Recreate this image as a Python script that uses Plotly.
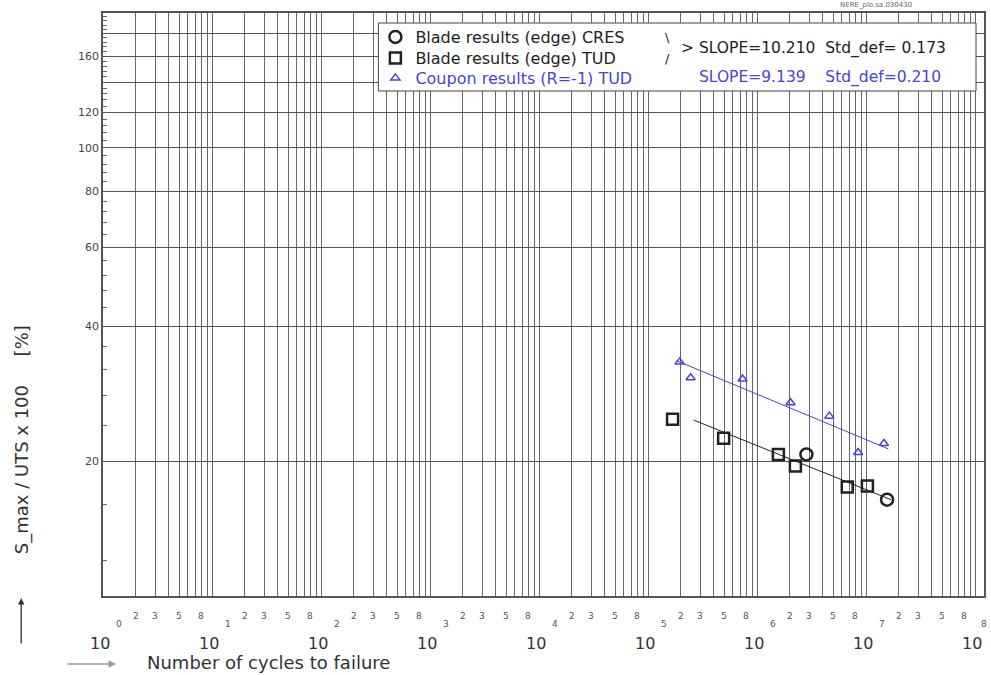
import numpy as np
import plotly.graph_objects as go

# ---------------- data ----------------
cres_N = [2.84e6, 1.56e7]
cres_S = [20.7, 16.4]
tud_blade_N = [1.68e5, 4.94e5, 1.57e6, 2.25e6, 6.73e6, 1.03e7]
tud_blade_S = [24.8, 22.5, 20.7, 19.5, 17.5, 17.6]
coupon_N = [1.95e5, 2.46e5, 7.37e5, 2.03e6, 4.61e6, 8.46e6, 1.46e7]
coupon_S = [33.3, 30.7, 30.5, 27.0, 25.2, 20.9, 21.9]
blade_fit_N = [2.62e5, 1.70e7]
blade_fit_S = [24.7, 16.4]
coupon_fit_N = [1.83e5, 1.60e7]
coupon_fit_S = [33.5, 21.3]

series_names = ["Blade results (edge) CRES", "Blade results (edge) TUD",
                "Coupon results (R=-1) TUD"]
blade_fit_text = "> SLOPE=10.210\u00a0\u00a0Std_def=\u00a00.173"
coupon_fit_text = "SLOPE=9.139\u00a0\u00a0\u00a0\u00a0Std_def=0.210"

y_tick_vals = [20, 40, 60, 80, 100, 120, 140, 160, 180]
y_tick_text = ["20", "40", "60", "80", "100", "120", "", "160", ""]
y_minor_vals = [12, 16, 24, 28, 32, 36, 44, 48, 52, 56, 64, 68, 72, 76, 84, 88, 92, 96,
                104, 108, 112, 116, 124, 128, 132, 136, 144, 148, 152, 156, 164, 168,
                172, 176, 184, 188, 192, 196]
x_decades = list(range(0, 9))
x_minor_labels = [2, 3, 5, 8]

BLUE = "#4646d2"
FONT = "DejaVu Sans, Liberation Sans, Arial, sans-serif"

W, H = 991, 675
L, R, T, B = 103, 5, 13, 79
PW, PH = W - L - R, H - T - B
DEC = 109.25
x_range = [0, PW / DEC]
y_range = [1, np.log10(200)]


def px(xp):
    return (xp - L) / PW


def py(yp):
    return (H - B - yp) / PH


fig = go.Figure()

# fit lines
fig.add_trace(go.Scatter(x=blade_fit_N, y=blade_fit_S, mode="lines",
                         line=dict(color="#222222", width=1), showlegend=False,
                         hoverinfo="skip"))
fig.add_trace(go.Scatter(x=coupon_fit_N, y=coupon_fit_S, mode="lines",
                         line=dict(color=BLUE, width=1), showlegend=False,
                         hoverinfo="skip"))
# markers
fig.add_trace(go.Scatter(x=cres_N, y=cres_S, mode="markers", name=series_names[0],
                         legend="legend",
                         marker=dict(symbol="circle-open", size=12, color="#222222",
                                     line=dict(width=2.5))))
fig.add_trace(go.Scatter(x=tud_blade_N, y=tud_blade_S, mode="markers", name=series_names[1],
                         legend="legend2",
                         marker=dict(symbol="square-open", size=11, color="#222222",
                                     line=dict(width=2.5))))
fig.add_trace(go.Scatter(x=coupon_N, y=coupon_S, mode="markers",
                         name="<span style='color:%s'>%s</span>" % (BLUE, series_names[2]),
                         legend="legend3",
                         marker=dict(symbol="triangle-up-open", size=8, color=BLUE,
                                     line=dict(width=1.5))))

x_grid = [k * 10 ** d for d in range(0, 8) for k in range(1, 10)] + [1e8]


def leg(yc):
    return dict(x=px(376), y=py(yc), xanchor="left", yanchor="middle",
                bgcolor="rgba(0,0,0,0)", borderwidth=0,
                font=dict(size=16, color="#222222", family=FONT), itemwidth=30)


fig.update_layout(
    width=W, height=H,
    margin=dict(l=L, r=R, t=T, b=B),
    paper_bgcolor="white", plot_bgcolor="white",
    font=dict(family=FONT, color="#333333"),
    xaxis=dict(type="log", range=x_range, tickmode="array", tickvals=x_grid,
               showticklabels=False, ticks="", showgrid=True, gridcolor="#666666",
               gridwidth=1, showline=True, mirror=True, linecolor="#555555",
               linewidth=1.5, zeroline=False),
    yaxis=dict(type="log", range=y_range, tickmode="array", tickvals=y_tick_vals,
               ticktext=y_tick_text, ticks="inside", ticklen=4, tickcolor="#555555",
               tickfont=dict(size=11, color="#444444"), showgrid=True,
               gridcolor="#555555", gridwidth=1, showline=True, mirror=True,
               linecolor="#555555", linewidth=1.5, zeroline=False,
               minor=dict(tickmode="array", tickvals=y_minor_vals, ticks="inside",
                          ticklen=4, tickcolor="#666666", showgrid=False)),
    legend=leg(37), legend2=leg(58), legend3=leg(78),
    showlegend=True,
)

# legend frame
fig.add_shape(type="rect", xref="paper", yref="paper", x0=px(379), x1=px(978),
              y0=py(91), y1=py(23), line=dict(color="#444444", width=1),
              fillcolor="white", layer="above")

ann = []
# slope texts
ann.append(dict(x=px(669), y=py(38), text="\\", showarrow=False, xanchor="center",
                font=dict(size=13, color="#222222")))
ann.append(dict(x=px(669), y=py(58), text="/", showarrow=False, xanchor="center",
                font=dict(size=13, color="#222222")))
ann.append(dict(x=px(680), y=py(48), text=blade_fit_text, showarrow=False,
                xanchor="left", font=dict(size=15.5, color="#222222")))
ann.append(dict(x=px(698), y=py(78), text=coupon_fit_text, showarrow=False,
                xanchor="left", font=dict(size=15.5, color=BLUE)))
# tiny header text
ann.append(dict(x=px(878), y=py(5), text="NERE_plo.sa.030430", showarrow=False,
                xanchor="center", font=dict(size=7, color="#666666")))

# x axis custom labels
for d in x_decades:
    xd = L + d * DEC
    ann.append(dict(x=px(xd - 3), y=py(643), text="10", showarrow=False,
                    xanchor="center", font=dict(size=16, color="#333333")))
    ann.append(dict(x=px(min(xd + 16, 986)), y=py(624), text=str(d), showarrow=False,
                    xanchor="center", font=dict(size=9, color="#555555")))
    if d < 8:
        for k in x_minor_labels:
            ann.append(dict(x=np.log10(k * 10 ** d), xref="x", y=py(616), yref="paper",
                            text=str(k), showarrow=False, xanchor="center",
                            font=dict(size=9, color="#555555")))

# axis titles
ann.append(dict(x=px(145), y=py(662), text="Number of cycles to failure", showarrow=False,
                xanchor="left", font=dict(size=18, color="#333333")))
ann.append(dict(x=px(22), y=py(440), text="S_max / UTS x 100\u00a0\u00a0\u00a0\u00a0\u00a0[%]",
                showarrow=False, textangle=-90, xanchor="center",
                font=dict(size=18, color="#333333")))
# arrows
ann.append(dict(x=px(21), y=py(598), ax=0, ay=47, text="", showarrow=True,
                arrowhead=2, arrowsize=1, arrowwidth=1.3, arrowcolor="#333333"))
ann.append(dict(x=px(116), y=py(664), ax=-50, ay=0, text="", showarrow=True,
                arrowhead=2, arrowsize=1, arrowwidth=1.5, arrowcolor="#999999"))

for a in ann:
    a.setdefault("xref", "paper")
    a.setdefault("yref", "paper")
    a.setdefault("yanchor", "middle")
fig.update_layout(annotations=ann)

fig.write_html("out.html")
